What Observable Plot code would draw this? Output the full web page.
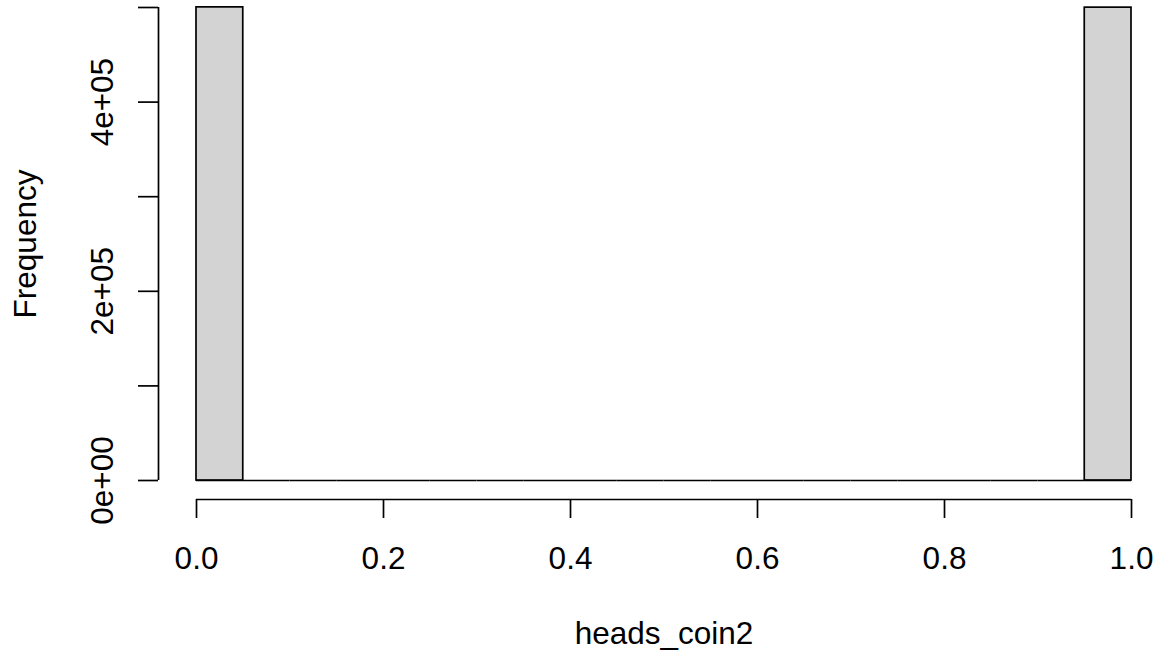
<!DOCTYPE html>
<html>
<head>
<meta charset="utf-8">
<script src="https://cdn.jsdelivr.net/npm/d3@7"></script>
<script src="https://cdn.jsdelivr.net/npm/@observablehq/plot@0.6"></script>
<style>
  html, body { margin: 0; padding: 0; background: #ffffff; }
  svg { display: block; }
</style>
</head>
<body>
<div id="chart"></div>
<script>
// Histogram bins of heads_coin2 (breaks every 0.05)
const binStart = [0.00, 0.05, 0.10, 0.15, 0.20, 0.25, 0.30, 0.35, 0.40, 0.45,
                  0.50, 0.55, 0.60, 0.65, 0.70, 0.75, 0.80, 0.85, 0.90, 0.95];
const binEnd   = [0.05, 0.10, 0.15, 0.20, 0.25, 0.30, 0.35, 0.40, 0.45, 0.50,
                  0.55, 0.60, 0.65, 0.70, 0.75, 0.80, 0.85, 0.90, 0.95, 1.00];
const counts   = [500150, 0, 0, 0, 0, 0, 0, 0, 0, 0,
                  0, 0, 0, 0, 0, 0, 0, 0, 0, 499850];

const xTicks = [0, 0.2, 0.4, 0.6, 0.8, 1.0];
const yTicks = [0, 100000, 200000, 300000, 400000, 500000];
const yLabelValues = [0, 200000, 400000];
const yLabelTexts = ["0e+00", "2e+05", "4e+05"];
const xTitle = "heads_coin2";
const yTitle = "Frequency";

const bins = binStart.map((s, i) => ({x1: s, x2: binEnd[i], count: counts[i]}));
const yLabels = yLabelValues.map((v, i) => ({value: v, text: yLabelTexts[i]}));

const FONT = "'Liberation Sans', Arial, Helvetica, sans-serif";
const FS = 31.5;
const LW = 1.7;

const chart = Plot.plot({
  width: 1157,
  height: 653,
  marginLeft: 196,
  marginRight: 26,
  marginTop: 7,
  marginBottom: 173,
  style: {fontFamily: FONT, fontSize: FS + "px", color: "black", background: "white", overflow: "visible"},
  x: {domain: [0, 1], axis: null},
  y: {domain: [0, 500000], axis: null},
  marks: [
    // zero-height bins show as a baseline segment
    Plot.ruleY(bins, {x1: "x1", x2: "x2", y: 0, stroke: "black", strokeWidth: LW}),
    Plot.rect(bins.filter(d => d.count > 0), {
      x1: "x1", x2: "x2", y1: 0, y2: "count",
      fill: "#d3d3d3", stroke: "black", strokeWidth: LW
    }),
    // y axis (offset like R)
    Plot.ruleX([0], {x: d => d, y1: 0, y2: 500000, dx: -38, stroke: "black", strokeWidth: LW}),
    Plot.axisY({ticks: yTicks, tickSize: 20, dx: -38, tickFormat: () => "", strokeWidth: LW, stroke: "black"}),
    Plot.text(yLabels, {
      y: "value", text: "text", frameAnchor: "left", dx: -84,
      rotate: -90, textAnchor: "middle", lineAnchor: "bottom",
      fontSize: FS, fill: "black"
    }),
    // x axis (offset like R)
    Plot.ruleY([0], {y: d => d, x1: 0, x2: 1, dy: 19, stroke: "black", strokeWidth: LW}),
    Plot.axisX({ticks: xTicks, tickSize: 19, dy: 19, tickPadding: 28,
      tickFormat: d => d.toFixed(1), fontSize: FS, strokeWidth: LW, stroke: "black", fill: "black"}),
    // titles
    Plot.text([xTitle], {text: d => d, frameAnchor: "bottom", dy: 163, lineAnchor: "bottom", fontSize: FS, fill: "black"}),
    Plot.text([yTitle], {text: d => d, frameAnchor: "left", dx: -161, rotate: -90, lineAnchor: "bottom", textAnchor: "middle", fontSize: FS, fill: "black"})
  ]
});
document.getElementById("chart").appendChild(chart);
</script>
</body>
</html>
